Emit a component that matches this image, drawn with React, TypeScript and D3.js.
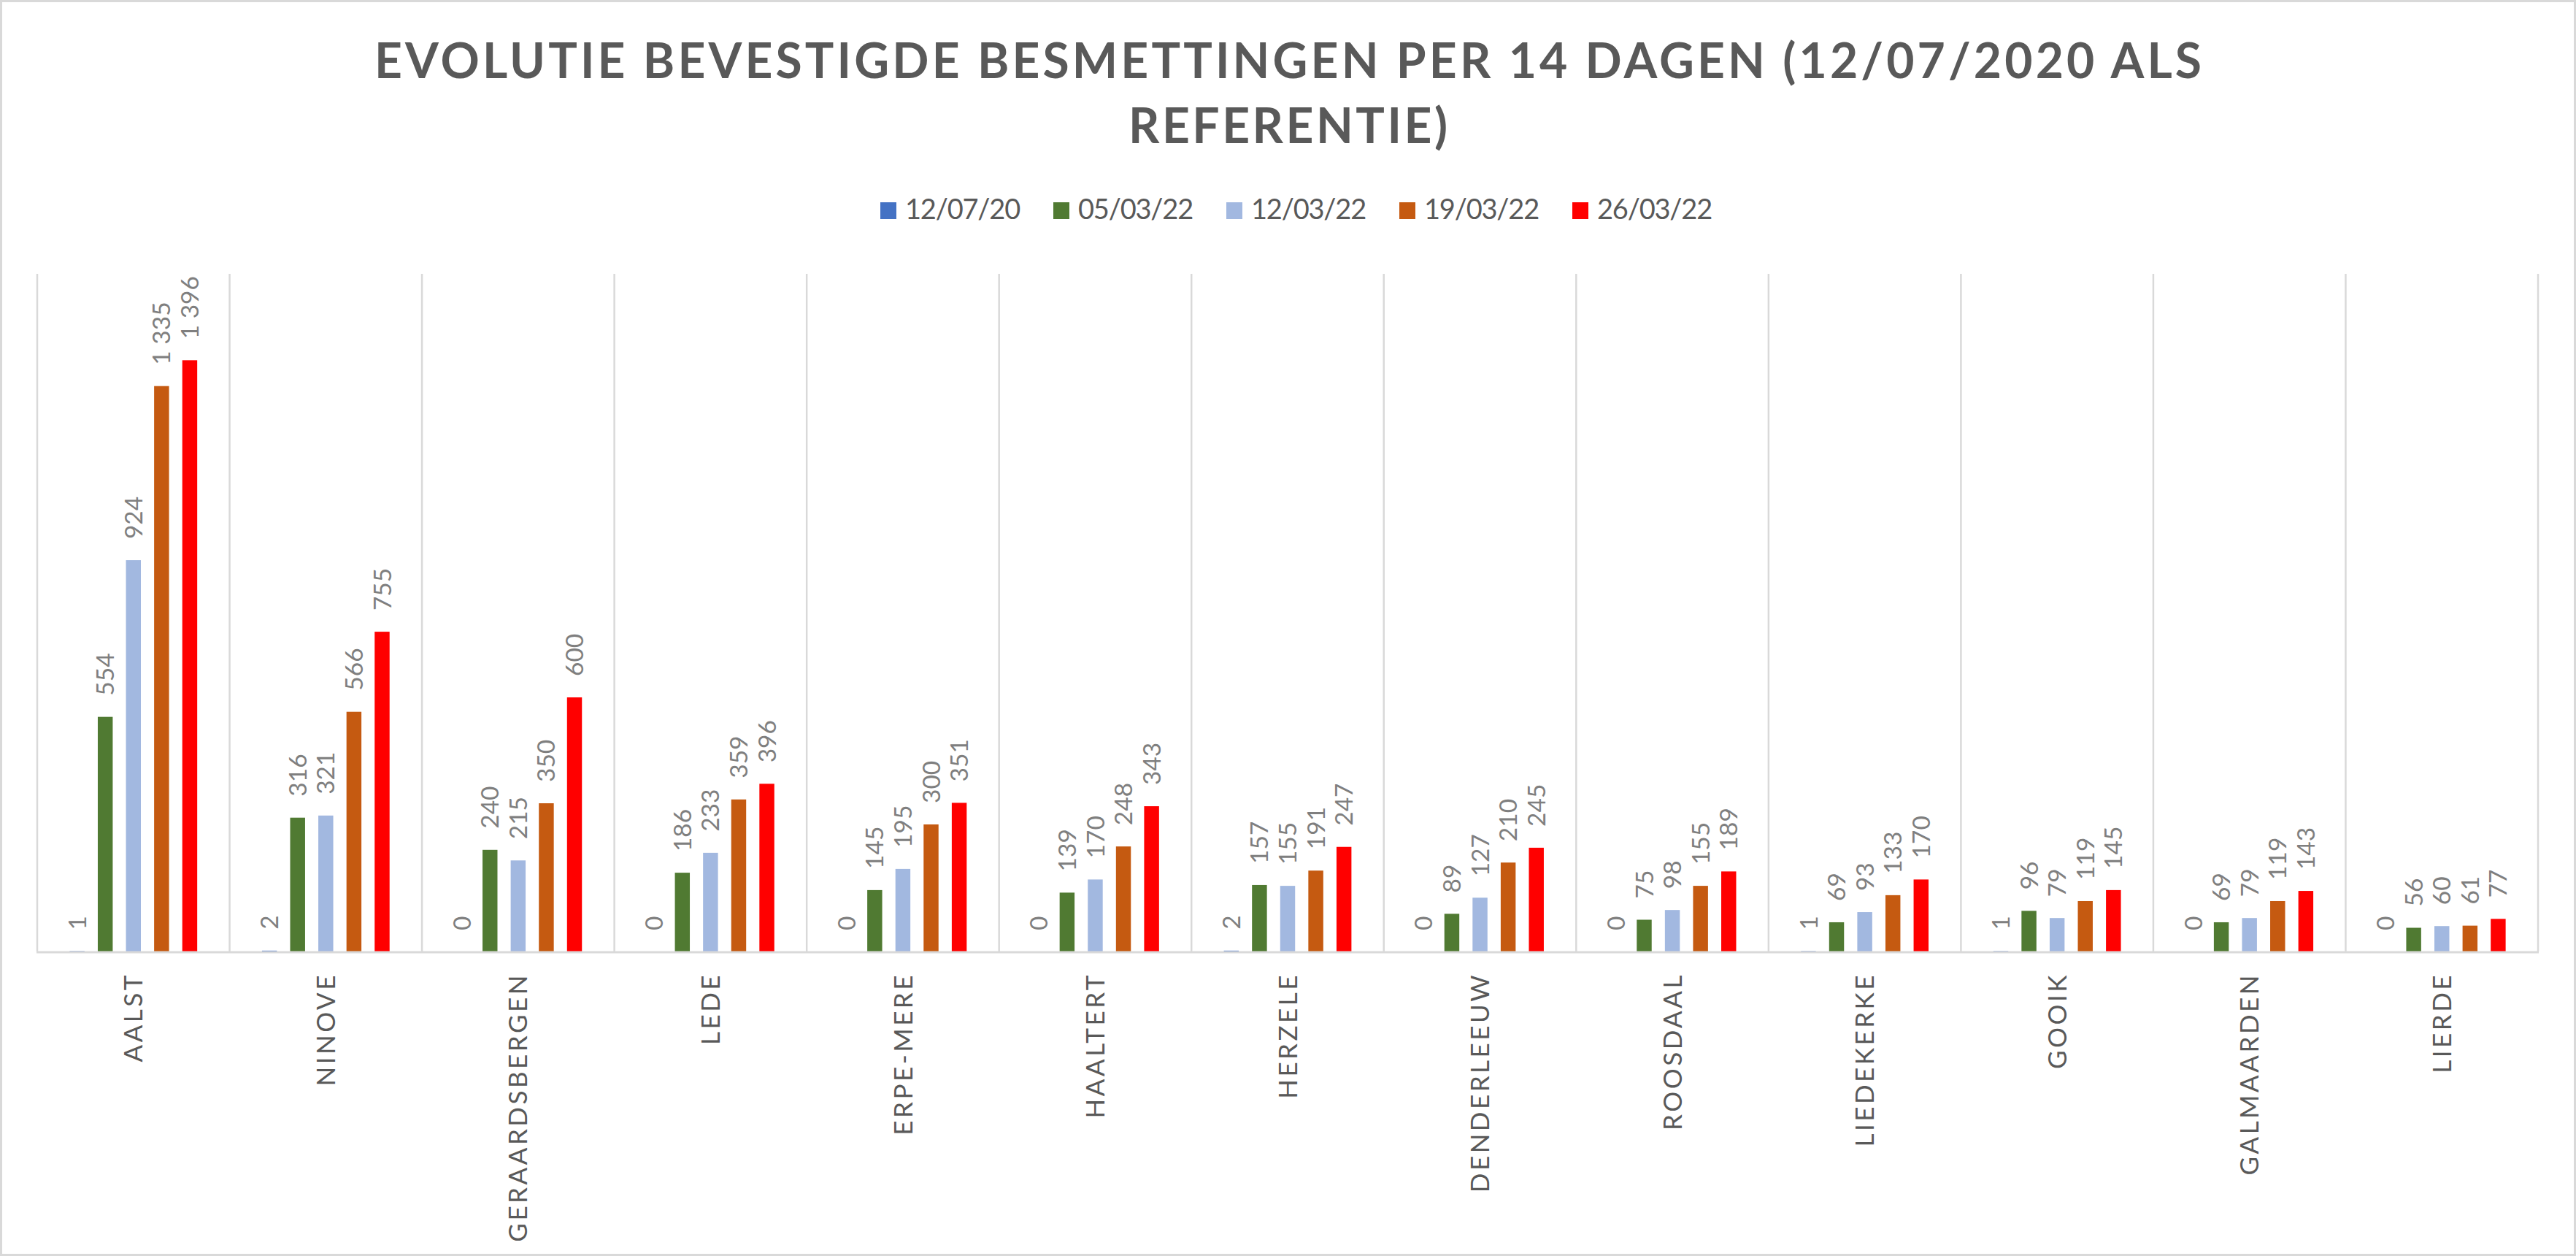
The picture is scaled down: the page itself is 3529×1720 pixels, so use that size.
import React from "react";
import * as d3 from "d3";

const W = 3529;
const H = 1720;

const categories = [
  "AALST",
  "NINOVE",
  "GERAARDSBERGEN",
  "LEDE",
  "ERPE-MERE",
  "HAALTERT",
  "HERZELE",
  "DENDERLEEUW",
  "ROOSDAAL",
  "LIEDEKERKE",
  "GOOIK",
  "GALMAARDEN",
  "LIERDE",
];

const seriesNames = ["12/07/20", "05/03/22", "12/03/22", "19/03/22", "26/03/22"];

const s120720 = [1, 2, 0, 0, 0, 0, 2, 0, 0, 1, 1, 0, 0];
const s050322 = [554, 316, 240, 186, 145, 139, 157, 89, 75, 69, 96, 69, 56];
const s120322 = [924, 321, 215, 233, 195, 170, 155, 127, 98, 93, 79, 79, 60];
const s190322 = [1335, 566, 350, 359, 300, 248, 191, 210, 155, 133, 119, 119, 61];
const s260322 = [1396, 755, 600, 396, 351, 343, 247, 245, 189, 170, 145, 143, 77];

const seriesValues = [s120720, s050322, s120322, s190322, s260322];
const seriesColors = ["#4472C4", "#507A32", "#A2B8E0", "#C55A11", "#FF0000"];

const titleLines = ["EVOLUTIE BEVESTIGDE BESMETTINGEN PER 14 DAGEN (12/07/2020 ALS", "REFERENTIE)"];

const FONT = "Lato, 'Open Sans', sans-serif";

const locale = d3.formatLocale({
  decimal: ",",
  thousands: "\u00a0",
  grouping: [3],
  currency: ["", "€"],
});
const fmt = locale.format(",d");

export default function App() {
  const plotLeft = 51;
  const plotRight = 3477;
  const plotTop = 375;
  const plotBottom = 1303;

  const x = d3.scaleBand<string>().domain(categories).range([plotLeft, plotRight]).paddingInner(0).paddingOuter(0);
  const xi = d3
    .scaleBand<string>()
    .domain(seriesNames)
    .range([0, x.bandwidth()])
    .paddingInner(0.47)
    .paddingOuter(1.15);
  const y = d3.scaleLinear().domain([0, 1600]).range([plotBottom, plotTop]);

  const boundaries = categories.map((c) => x(c) as number).concat([plotRight]);

  return (
    <svg
      width={W}
      height={H}
      style={{ position: "absolute", left: 0, top: 0, background: "#fff", display: "block" }}
    >
      <rect x={0} y={0} width={W} height={H} fill="#fff" />
      <rect x={1.5} y={1.5} width={W - 3} height={H - 3} fill="none" stroke="#D9D9D9" strokeWidth={3} />

      {/* title */}
      <text
        x={W / 2}
        y={107}
        textAnchor="middle"
        fontFamily={FONT}
        fontWeight={700}
        fontSize={66}
        fill="#595959"
        textLength={2503}
        lengthAdjust="spacing"
      >
        {titleLines[0]}
      </text>
      <text
        x={W / 2}
        y={196}
        textAnchor="middle"
        fontFamily={FONT}
        fontWeight={700}
        fontSize={66}
        fill="#595959"
        textLength={437}
        lengthAdjust="spacing"
      >
        {titleLines[1]}
      </text>

      {/* legend */}
      {seriesNames.map((s, i) => {
        const lx = 1206 + i * 237;
        return (
          <g key={s}>
            <rect x={lx} y={277} width={22} height={23} fill={seriesColors[i]} />
            <text x={lx + 34} y={300} fontFamily={FONT} fontSize={38} letterSpacing={-1.2} fill="#595959">
              {s}
            </text>
          </g>
        );
      })}

      {/* vertical gridlines */}
      {boundaries.map((bx, i) => (
        <line key={i} x1={bx} x2={bx} y1={plotTop} y2={plotBottom} stroke="#D9D9D9" strokeWidth={2.5} />
      ))}

      {/* bars */}
      {seriesNames.map((s, si) => (
        <g key={s}>
          {categories.map((c, ci) => {
            const v = seriesValues[si][ci];
            const bx = (x(c) as number) + (xi(s) as number);
            const top = y(v);
            return (
              <rect
                key={c}
                x={bx}
                y={top}
                width={xi.bandwidth()}
                height={plotBottom - top}
                fill={seriesColors[si]}
              />
            );
          })}
        </g>
      ))}

      {/* baseline */}
      <line x1={plotLeft - 1} x2={plotRight + 1} y1={plotBottom + 1} y2={plotBottom + 1} stroke="#D9D9D9" strokeWidth={3} />

      {/* data labels */}
      {seriesNames.map((s, si) => (
        <g key={s}>
          {categories.map((c, ci) => {
            const v = seriesValues[si][ci];
            const cx = (x(c) as number) + (xi(s) as number) + xi.bandwidth() / 2;
            const ly = y(v) - 29;
            return (
              <text
                key={c}
                transform={`translate(${cx},${ly}) rotate(-90)`}
                textAnchor="start"
                dy="0.36em"
                fontFamily={FONT}
                fontSize={33.5}
                fill="#7F7F7F"
              >
                {fmt(v)}
              </text>
            );
          })}
        </g>
      ))}

      {/* category labels */}
      {categories.map((c) => {
        const cx = (x(c) as number) + x.bandwidth() / 2;
        return (
          <text
            key={c}
            transform={`translate(${cx},1332) rotate(-90)`}
            textAnchor="end"
            dy="0.36em"
            fontFamily={FONT}
            fontSize={35}
            letterSpacing={3.5}
            fill="#595959"
          >
            {c}
          </text>
        );
      })}
    </svg>
  );
}
